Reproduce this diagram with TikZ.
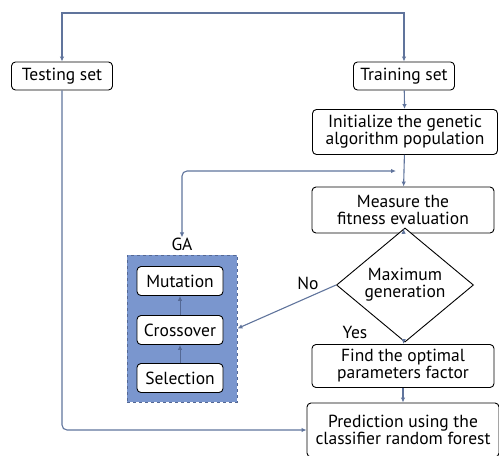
\documentclass[tikz,border=0pt]{standalone}
\usepackage{fontspec}
\setmainfont{PT Sans}
\usetikzlibrary{shapes.geometric,arrows.meta}
\definecolor{flowline}{RGB}{96,116,156}
\definecolor{gafill}{RGB}{122,150,206}
\definecolor{gaedge}{RGB}{84,104,148}
\tikzset{
  box/.style={draw, line width=0.9pt, rounded corners=4pt, fill=white, align=center, inner sep=1pt,
    font=\fontsize{17.5}{17}\selectfont},
  gastep/.style={box, minimum width=86pt, minimum height=29pt},
  flow/.style={draw=flowline, line width=1.1pt, -{Latex[length=5pt,width=4.5pt]}},
  lbl/.style={font=\fontsize{17.5}{17}\selectfont, inner sep=0pt}
}
\begin{document}
\begin{tikzpicture}[x=1pt, y=-1pt]
    \useasboundingbox (0,0) rectangle (499,456);

    % data split
    \node[box, minimum width=101pt, minimum height=28pt] (test) at (62,76) {Testing set};
    \node[box, minimum width=101pt, minimum height=28pt] (train) at (404,76) {Training set};
    \coordinate (top) at (239,13);

    % main chain
    \node[box, minimum width=185pt, minimum height=45pt] (init) at (405,132)
        {Initialize the genetic\\algorithm population};
    \node[box, minimum width=182pt, minimum height=46pt] (meas) at (403,210)
        {Measure the\\fitness evaluation};
    \node[draw, line width=0.9pt, diamond, fill=white, minimum width=137pt, minimum height=84pt,
        inner sep=0pt, align=center, font=\fontsize{17.5}{17}\selectfont] (maxgen) at (405,285)
        {Maximum\\generation};
    \node[box, minimum width=182pt, minimum height=43pt] (find) at (403,366)
        {Find the optimal\\parameters factor};
    \node[box, minimum width=192pt, minimum height=54pt] (pred) at (403,430)
        {Prediction using the\\classifier random forest};

    % GA block
    \node[draw=gaedge, dashed, line width=0.8pt, fill=gafill, minimum width=110pt,
        minimum height=147pt, inner sep=0pt] (gabox) at (182,328.5) {};
    \node[lbl] (galabel) at (182,244) {GA};
    \node[gastep] (mut) at (180,281) {Mutation};
    \node[gastep] (cross) at (180,330) {Crossover};
    \node[gastep] (sel) at (180,378) {Selection};
    \draw[flow, draw=gaedge, line width=0.8pt] (sel) -- (cross);
    \draw[flow, draw=gaedge, line width=0.8pt] (cross) -- (mut);

    % labels
    \node[lbl] (yes) at (355,332) {Yes};
    \node[lbl] (no) at (308,283) {No};

    % connectors
    \draw[flow] (top) -| (test);
    \draw[flow] (top) -| (train);
    \draw[flow] (train) -- (init);
    \draw[flow] (init) -- (meas);
    \draw[flow] (meas) -- (maxgen);
    \draw[flow] (maxgen) -- (find);
    \draw[flow] (find) -- (pred);
    \draw[flow] (maxgen.west) -- (gabox.east);
    \coordinate (loopend) at (396,171);
    \draw[flow, {Latex[length=5pt,width=4.5pt]}-{Latex[length=5pt,width=4.5pt]}, rounded corners=5pt]
        (galabel.north) |- (loopend);
    \draw[flow, rounded corners=5pt] (test) |- (pred.west);
\end{tikzpicture}
\end{document}
